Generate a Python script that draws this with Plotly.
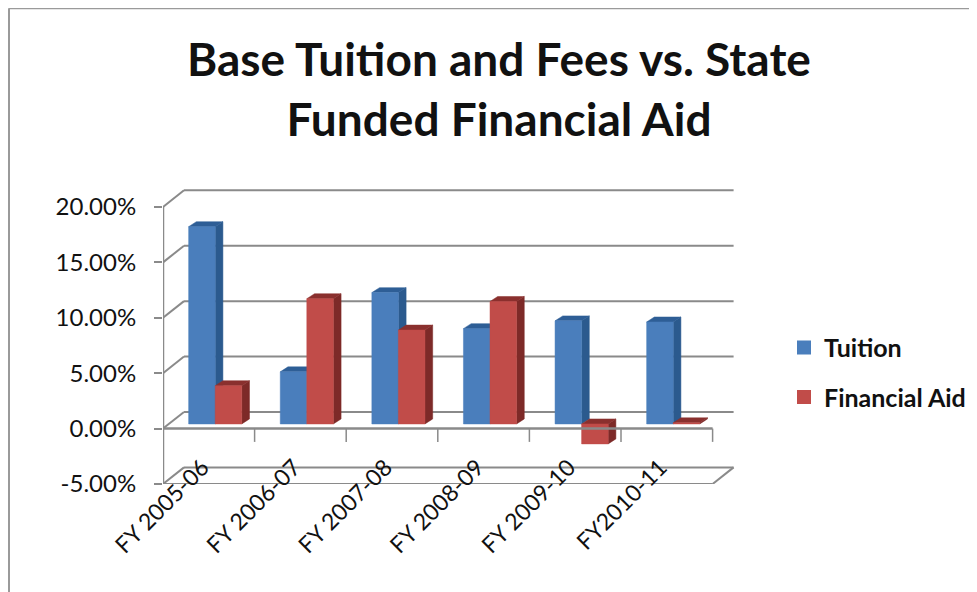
import plotly.graph_objects as go

categories = ["FY 2005-06", "FY 2006-07", "FY 2007-08", "FY 2008-09", "FY 2009-10", "FY2010-11"]
tuition = [17.8, 4.7, 11.85, 8.6, 9.3, 9.2]
financial_aid = [3.45, 11.3, 8.47, 11.05, -1.8, 0.1]
y_ticks = [-5, 0, 5, 10, 15, 20]
y_tick_labels = ["-5.00%", "0.00%", "5.00%", "10.00%", "15.00%", "20.00%"]

# The page body has an 8px margin, so page pixel = figure pixel + 8.
PAGE = 8
W, H = 977 - PAGE, 592 - PAGE
Y_PX = 11.1
ymax = 21.8
B = 107.5
T = H - B - (ymax + 5) * Y_PX
L, R = 163 - PAGE, 241
CAT_PX = 91.6
xmax = (W - L - R) / CAT_PX

WALL_DX, WALL_DY = 21 / CAT_PX, 1.5
BAR_LIFT = 0.42
BAR_START, BAR_W = 0.28, 0.29
BAR_DX, BAR_DY = 7.7 / CAT_PX, 0.45
GRID = "#8a8a8a"


def polys(rects):
    xs, ys = [], []
    for pts in rects:
        for p in pts + [pts[0]]:
            xs.append(p[0])
            ys.append(p[1])
        xs.append(None)
        ys.append(None)
    return xs, ys


def segs(lines):
    xs, ys = [], []
    for a, b in lines:
        xs += [a[0], b[0], None]
        ys += [a[1], b[1], None]
    return xs, ys


def line_trace(lines, width=2, color=GRID):
    x, y = segs(lines)
    return go.Scatter(x=x, y=y, mode="lines", line=dict(color=color, width=width),
                      showlegend=False, hoverinfo="skip", cliponaxis=False)


def fill_trace(rects, color):
    x, y = polys(rects)
    return go.Scatter(x=x, y=y, mode="lines", fill="toself", fillcolor=color,
                      line=dict(color=color, width=0.5),
                      showlegend=False, hoverinfo="skip", cliponaxis=False)


def bar_series(values, slot, front, side, top):
    fronts, sides, tops = [], [], []
    for i, v in enumerate(values):
        x0 = i + BAR_START + slot * BAR_W
        x1 = x0 + BAR_W
        hi = max(v, 0) + BAR_LIFT
        lo = min(v, 0) + BAR_LIFT
        fronts.append([(x0, lo), (x1, lo), (x1, hi), (x0, hi)])
        sides.append([(x1, lo), (x1 + BAR_DX, lo + BAR_DY), (x1 + BAR_DX, hi + BAR_DY), (x1, hi)])
        tops.append([(x0, hi), (x1, hi), (x1 + BAR_DX, hi + BAR_DY), (x0 + BAR_DX, hi + BAR_DY)])
    return [fill_trace(sides, side), fill_trace(tops, top), fill_trace(fronts, front)]


n = len(categories)
fig = go.Figure()

fig.add_trace(line_trace([((WALL_DX, v + WALL_DY), (n + WALL_DX, v + WALL_DY)) for v in y_ticks]))
fig.add_trace(line_trace([((0, v), (WALL_DX, v + WALL_DY)) for v in y_ticks]))
fig.add_trace(line_trace([((0, y_ticks[0]), (n, y_ticks[0])),
                          ((n, y_ticks[0]), (n + WALL_DX, y_ticks[0] + WALL_DY))]))
fig.add_trace(line_trace([((0, y_ticks[0]), (0, y_ticks[-1]))], width=2.5))

for t in bar_series(tuition, 0, "#4A7EBC", "#2B5A8E", "#2E5E96"):
    fig.add_trace(t)
for t in bar_series(financial_aid, 1, "#C14C49", "#7D2A28", "#8A302E"):
    fig.add_trace(t)

fig.add_trace(line_trace([((0, 0), (n, 0))], width=2.5))
fig.add_trace(line_trace([((i, 0), (i, -1.2)) for i in range(1, n + 1)], width=1.5))

for name, color in (("Tuition", "#4A7EBC"), ("Financial Aid", "#C14C49")):
    fig.add_trace(go.Scatter(x=[None], y=[None], mode="markers", name=name, legendgroup=name,
                             marker=dict(symbol="square", size=14, color=color)))

# page pixels to plot-area fractions
px = lambda p: (p - PAGE - L) / (W - L - R)
py = lambda p: (H - B - (p - PAGE)) / (H - T - B)

fig.update_layout(
    width=W, height=H, autosize=False,
    margin=dict(l=L, r=R, t=T, b=B, pad=0, autoexpand=False),
    paper_bgcolor="white", plot_bgcolor="rgba(0,0,0,0)",
    font=dict(family="Lato", color="#111111"),
    title=dict(text="<b>Base Tuition and Fees vs. State<br>Funded Financial Aid</b>",
               x=(499 - PAGE) / W, xanchor="center", y=1 - 68 / H, yanchor="top",
               font=dict(size=46, family="Lato", color="#111111")),
    xaxis=dict(range=[0, xmax], tickmode="array", tickvals=[i + 0.43 for i in range(n)],
               ticktext=categories, tickangle=-45, ticks="", showgrid=False, zeroline=False,
               showline=False, anchor="free", position=py(449),
               tickfont=dict(size=23, family="Lato", color="#111111")),
    yaxis=dict(range=[y_ticks[0], ymax], tickmode="array", tickvals=y_ticks, ticktext=y_tick_labels,
               ticks="outside", ticklen=8, tickwidth=2, tickcolor=GRID, ticklabelstandoff=13,
               showgrid=False, zeroline=False, showline=False,
               tickfont=dict(size=24, family="Lato", color="#111111")),
    legend=dict(x=px(784), xanchor="left", y=py(325), yanchor="top",
                traceorder="grouped", tracegroupgap=14, bgcolor="rgba(0,0,0,0)",
                font=dict(size=25, family="Lato", color="#111111", weight="bold")),
    shapes=[dict(type="line", xref="paper", yref="paper", x0=px(9), x1=px(9), y0=py(8), y1=py(600),
                 line=dict(color="#9a9a9a", width=2)),
            dict(type="line", xref="paper", yref="paper", x0=px(9), x1=px(985), y0=py(8), y1=py(8),
                 line=dict(color="#9a9a9a", width=2))],
)

fig.write_html("out.html")
